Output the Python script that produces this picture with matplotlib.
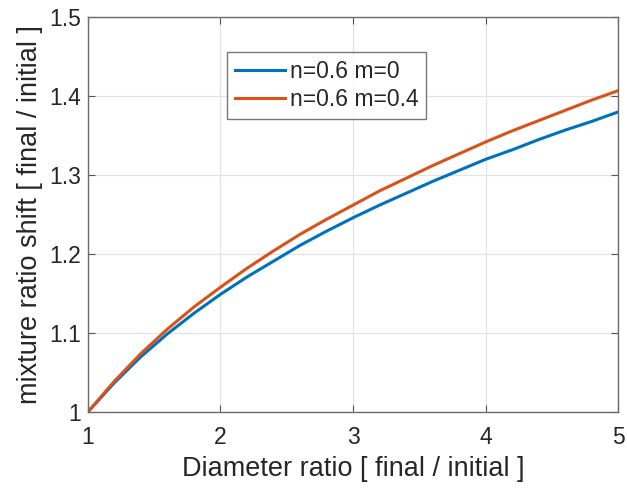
import matplotlib
matplotlib.use("Agg")
import matplotlib.pyplot as plt

# diameter ratio samples and the two mixture-ratio curves
diameter_ratio = [1.0, 1.2, 1.4, 1.6, 1.8, 2.0, 2.2, 2.4, 2.6, 2.8, 3.0,
                  3.2, 3.4, 3.6, 3.8, 4.0, 4.2, 4.4, 4.6, 4.8, 5.0]
shift_m0 = [1.000, 1.037, 1.070, 1.099, 1.125, 1.149, 1.171, 1.191, 1.211,
            1.229, 1.246, 1.262, 1.277, 1.292, 1.306, 1.320, 1.332, 1.345,
            1.357, 1.368, 1.380]
shift_m04 = [1.000, 1.039, 1.074, 1.105, 1.133, 1.158, 1.182, 1.204, 1.225,
             1.244, 1.262, 1.280, 1.296, 1.312, 1.327, 1.342, 1.356, 1.369,
             1.382, 1.395, 1.407]
labels = ["n=0.6 m=0", "n=0.6 m=0.4"]

plt.rcParams['font.family'] = ['Liberation Sans', 'DejaVu Sans']

fig = plt.figure(figsize=(6.27, 4.9), dpi=100)
ax = fig.add_axes([0.140, 0.159, 0.846, 0.806])

ax.plot(diameter_ratio, shift_m0, color='#0072BD', lw=2.2, label=labels[0])
ax.plot(diameter_ratio, shift_m04, color='#D95319', lw=2.2, label=labels[1])

ax.set_xlim(1, 5)
ax.set_ylim(1, 1.5)
ax.set_xticks([1, 2, 3, 4, 5])
ax.set_xticklabels(['1', '2', '3', '4', '5'])
ax.set_yticks([1, 1.1, 1.2, 1.3, 1.4, 1.5])
ax.set_yticklabels(['1', '1.1', '1.2', '1.3', '1.4', '1.5'])
ax.grid(True, color='#e3e3e3', lw=0.9)
ax.set_axisbelow(True)

ax.tick_params(direction='in', length=5, width=0.8, color='#555555',
               labelsize=16.5, labelcolor='#262626', top=True, right=True, pad=5)
ax.tick_params(axis='x', pad=10)
for s in ax.spines.values():
    s.set_color('#6b6b6b')
    s.set_linewidth(1.0)

ax.set_xlabel('Diameter ratio [ final / initial ]', fontsize=19.5, color='#262626', labelpad=5)
ax.set_ylabel('mixture ratio shift [ final / initial ]', fontsize=19.5, color='#262626', labelpad=4)

leg = ax.legend(loc='upper left', bbox_to_anchor=(0.262, 0.911),
                fontsize=16.5, frameon=True, fancybox=False,
                handlelength=2.2, handletextpad=0.2, borderpad=0.35,
                labelspacing=0.2, borderaxespad=0)
leg.get_frame().set_edgecolor('#555555')
leg.get_frame().set_linewidth(1.0)
for t in leg.get_texts():
    t.set_color('#262626')

fig.savefig('out.png', dpi=100)
